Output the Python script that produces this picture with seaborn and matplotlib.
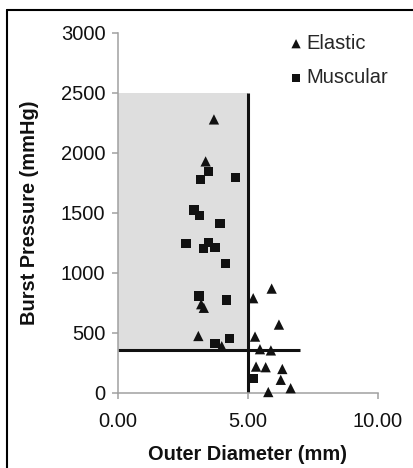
import matplotlib
matplotlib.use("Agg")
import matplotlib.pyplot as plt
import matplotlib.patches as mpatches
from matplotlib.lines import Line2D
import seaborn as sns
import pandas as pd

# ---- data ----
elastic_x = [3.69, 3.37, 3.20, 3.30, 3.09, 3.99, 5.20, 5.91, 6.19, 5.27, 5.46, 5.88,
             5.31, 5.68, 6.32, 6.26, 6.64, 5.78]
elastic_y = [2280, 1930, 740, 710, 475, 390, 790, 870, 570, 470, 365, 355,
             220, 215, 200, 110, 40, 8]
muscular_x = [3.47, 3.18, 4.53, 2.92, 3.13, 3.92, 2.62, 3.28, 3.47, 3.73, 4.14,
              3.12, 4.18, 3.73, 4.28, 5.20]
muscular_y = [1846, 1780, 1794, 1525, 1478, 1414, 1247, 1206, 1253, 1211, 1081,
              808, 775, 414, 456, 122]
threshold_x = 5.0
threshold_y = 355
region_top = 2500
hline_end = 7.0
x_ticks = [0, 5, 10]
x_ticklabels = ["0.00", "5.00", "10.00"]
y_ticks = [0, 500, 1000, 1500, 2000, 2500, 3000]

df_e = pd.DataFrame({"x": elastic_x, "y": elastic_y})
df_m = pd.DataFrame({"x": muscular_x, "y": muscular_y})

sns.set_theme(style="white")
plt.rcParams["font.family"] = ["Liberation Sans", "DejaVu Sans"]

fig = plt.figure(figsize=(4.13, 4.68), dpi=100)
ax = fig.add_axes([118/413, 1-393/468, 260/413, 360/468])

# shaded region
ax.add_patch(mpatches.Rectangle((0, threshold_y), threshold_x, region_top - threshold_y,
                                facecolor="#dedede", edgecolor="none", zorder=0))
ax.plot([threshold_x, threshold_x], [0, region_top], color="#111111", lw=2.2, zorder=1,
        solid_capstyle="butt")
ax.plot([0, hline_end], [threshold_y, threshold_y], color="#111111", lw=2.2, zorder=1,
        solid_capstyle="butt")

sns.scatterplot(data=df_e, x="x", y="y", marker="^", s=55, color="#111111",
                edgecolor="none", ax=ax, label="Elastic", zorder=3, clip_on=False)
sns.scatterplot(data=df_m, x="x", y="y", marker="s", s=45, color="#111111",
                edgecolor="none", ax=ax, label="Muscular", zorder=3, clip_on=False)

ax.set_xlim(0, 10)
ax.set_ylim(0, 3000)
ax.set_xticks(x_ticks)
ax.set_xticklabels(x_ticklabels)
ax.set_yticks(y_ticks)

for s in ["top", "right"]:
    ax.spines[s].set_visible(False)
for s in ["left", "bottom"]:
    ax.spines[s].set_color("#a0a0a0")
    ax.spines[s].set_linewidth(1.1)
ax.tick_params(axis="both", which="both", direction="out", length=4.5, width=1.1,
               color="#a0a0a0", labelsize=14.5, labelcolor="#111111",
               bottom=True, left=True)
ax.tick_params(axis="x", pad=9.5)
ax.tick_params(axis="y", pad=4.5)

ax.set_xlabel("Outer Diameter (mm)", fontsize=14.4, fontweight="bold", color="#111111")
ax.set_ylabel("Burst Pressure (mmHg)", fontsize=14.4, fontweight="bold", color="#111111")
ax.xaxis.label.set_va("center")
ax.yaxis.label.set_va("center")
ax.xaxis.set_label_coords(0.5, (393-455)/360)
ax.yaxis.set_label_coords((30-118)/260, 0.5)

ax.legend(loc="upper left", bbox_to_anchor=(290/413, 1-34/468), bbox_transform=fig.transFigure,
          frameon=False, fontsize=14.5, handlelength=0.6, handletextpad=0.2,
          borderpad=0, borderaxespad=0, labelspacing=0.75, markerscale=0.9)

# figure frame (left & top visible)
fig.add_artist(Line2D([7.5/413, 7.5/413], [0, 1-10/468], color="black", lw=1.5,
                      transform=fig.transFigure))
fig.add_artist(Line2D([7.5/413, 1], [1-10/468, 1-10/468], color="black", lw=1.5,
                      transform=fig.transFigure))

fig.savefig("out.png", dpi=100)
